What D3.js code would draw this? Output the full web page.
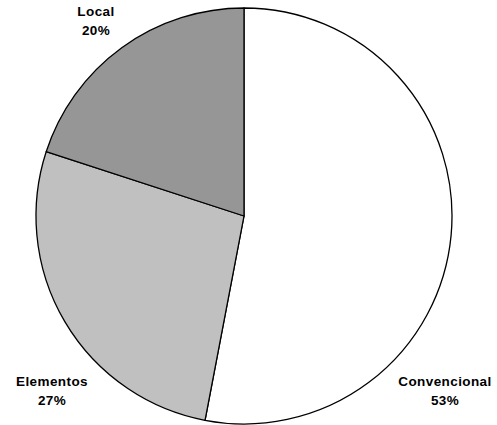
<!DOCTYPE html>
<html>
<head>
<meta charset="utf-8">
<script src="https://cdn.jsdelivr.net/npm/d3@7"></script>
<style>
  html, body { margin: 0; padding: 0; background: #fff; }
  svg { display: block; }
  text { font-family: "Liberation Sans", Arial, sans-serif; font-weight: bold; font-size: 13.5px; letter-spacing: 0.4px; fill: #000; }
</style>
</head>
<body>
<svg id="chart" width="497" height="425"></svg>
<script>
// Share of each category
const categories = ["Convencional", "Elementos", "Local"];
const values = [53, 27, 20];
const colors = ["#FFFFFF", "#C0C0C0", "#969696"];
// Label anchor points (label centre, first line baseline)
const labelPos = [[445, 386], [52, 386], [96, 16]];

const svg = d3.select("#chart");
const cx = 244, cy = 216, r = 208;

const pie = d3.pie().sort(null).value(d => d.value);
const arc = d3.arc().innerRadius(0).outerRadius(r);
const data = categories.map((c, i) => ({ name: c, value: values[i], color: colors[i] }));

const g = svg.append("g").attr("transform", `translate(${cx},${cy})`);
g.selectAll("path")
  .data(pie(data))
  .join("path")
  .attr("d", arc)
  .attr("fill", d => d.data.color)
  .attr("stroke", "#000")
  .attr("stroke-width", 1.3)
  .attr("stroke-linejoin", "round");

const labels = svg.selectAll("text.lbl")
  .data(data)
  .join("text")
  .attr("class", "lbl")
  .attr("text-anchor", "middle")
  .attr("x", (d, i) => labelPos[i][0])
  .attr("y", (d, i) => labelPos[i][1]);
labels.append("tspan").text(d => d.name);
labels.append("tspan")
  .attr("x", (d, i) => labelPos[i][0])
  .attr("dy", 19)
  .text(d => d.value + "%");
</script>
</body>
</html>
